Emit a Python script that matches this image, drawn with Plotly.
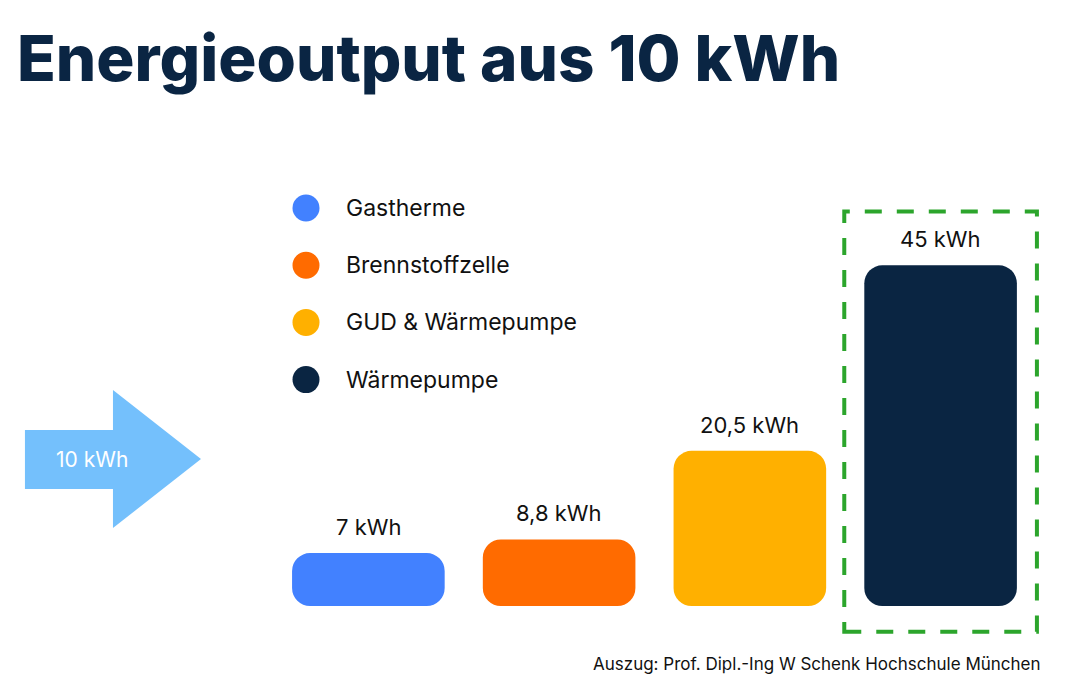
import plotly.graph_objects as go

# data
categories = ["Gastherme", "Brennstoffzelle", "GUD & Wärmepumpe", "Wärmepumpe"]
output_kwh = [7, 8.8, 20.5, 45]
colors = ["#4281FF", "#FF6B00", "#FFB000", "#0A2542"]
input_kwh = 10
highlight = 3  # index of the best option, boxed in green

W, H = 1080, 686
FONT = "Inter, 'Noto Sans', sans-serif"

def px(x):
    return x / W

def py(y):
    return 1 - y / H

def fmt(v):
    return f"{v:g}".replace(".", ",") + " kWh"

xs = list(range(len(categories)))

fig = go.Figure()

# base=0 set explicitly so plotly rounds both ends of the bar
fig.add_trace(go.Bar(x=xs, y=output_kwh, base=[0] * len(xs), width=0.8,
                     marker=dict(color=colors, cornerradius=18, line_width=0),
                     hoverinfo="skip", showlegend=False))

for i, v in enumerate(output_kwh):
    fig.add_annotation(x=xs[i], y=v, xref="x", yref="y", yshift=26,
                       xanchor="center", yanchor="middle",
                       text=fmt(v), showarrow=False,
                       font=dict(family=FONT, size=22, color="#111111"))

# legend drawn by hand: big dots and labels
for i, (name, c) in enumerate(zip(categories, colors)):
    yc = py(208 + 57.2 * i)
    fig.add_shape(type="circle", xref="paper", yref="paper",
                  xsizemode="pixel", ysizemode="pixel",
                  xanchor=px(306), yanchor=yc, x0=-13.5, x1=13.5, y0=-13.5, y1=13.5,
                  fillcolor=c, line_width=0)
    fig.add_annotation(x=px(344), y=yc, xref="paper", yref="paper",
                       xanchor="left", yanchor="middle", text=name, showarrow=False,
                       font=dict(family=FONT, size=23, color="#111111"))

# dashed box around the highlighted bar
fig.add_shape(type="rect", xref="x", yref="y",
              x0=xs[highlight] - 0.505, x1=xs[highlight] + 0.505,
              y0=-3.4, y1=output_kwh[highlight] + 7.1,
              line=dict(color="#2CA52C", width=4, dash="17px,15px"))

# input arrow
arrow = [(25, 430), (113, 430), (113, 390), (201, 459), (113, 528), (113, 489), (25, 489)]
path = "M " + " L ".join(f"{px(a):.4f},{py(b):.4f}" for a, b in arrow) + " Z"
fig.add_shape(type="path", xref="paper", yref="paper", path=path,
              fillcolor="#74C0FC", line_width=0, layer="below")
fig.add_annotation(x=px(92), y=py(459), xref="paper", yref="paper",
                   xanchor="center", yanchor="middle",
                   text=fmt(input_kwh), showarrow=False,
                   font=dict(family=FONT, size=21, color="white"))

# source
fig.add_annotation(x=px(1043), y=py(664), xref="paper", yref="paper",
                   xanchor="right", yanchor="middle", showarrow=False,
                   text="Auszug: Prof. Dipl.-Ing W Schenk Hochschule München",
                   font=dict(family=FONT, size=17, color="#111111"))

fig.update_layout(
    width=W, height=H,
    margin=dict(l=0, r=0, t=0, b=0),
    paper_bgcolor="white", plot_bgcolor="white",
    showlegend=False,
    title=dict(text="Energieoutput aus 10 kWh", x=px(17), xanchor="left",
               y=py(59), yanchor="middle",
               font=dict(family=FONT, size=63.7, color="#0A2543", weight=800)),
    xaxis=dict(domain=[px(273), px(1060)], range=[-0.5, 3.626], visible=False,
               fixedrange=True),
    yaxis=dict(domain=[py(650), py(182)], range=[-5.81, 56], visible=False,
               fixedrange=True),
)

fig.write_html("out.html", config={"displayModeBar": False},
               post_script="document.body.style.margin='0';")
